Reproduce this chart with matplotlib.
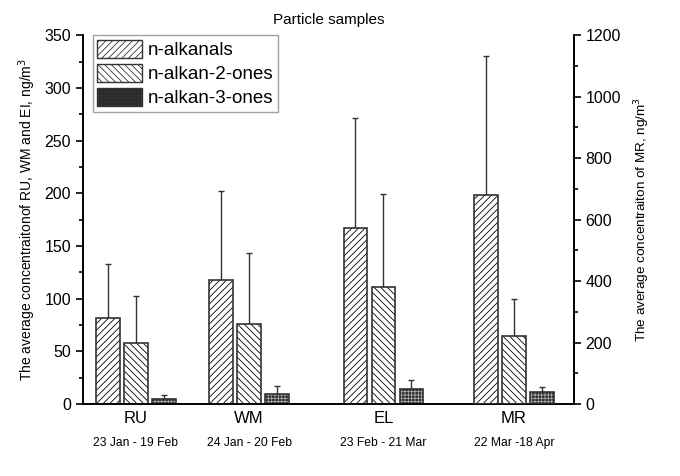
import matplotlib
matplotlib.use('Agg')
import matplotlib.pyplot as plt
import matplotlib.patches as mpatches
from matplotlib.ticker import MultipleLocator

plt.rcParams['font.family'] = ['Liberation Sans', 'DejaVu Sans']
plt.rcParams['hatch.linewidth'] = 0.6

sites = ['RU', 'WM', 'EL', 'MR']
periods = ['23 Jan - 19 Feb', '24 Jan - 20 Feb', '23 Feb - 21 Mar', '22 Mar -18 Apr']
series = ['n-alkanals', 'n-alkan-2-ones', 'n-alkan-3-ones']

# RU, WM, EL on left axis (ng/m3)
left_means = {'n-alkanals': [82, 118, 167],
              'n-alkan-2-ones': [58, 76, 111],
              'n-alkan-3-ones': [5, 10, 14]}
left_err = {'n-alkanals': [51, 84, 104],
            'n-alkan-2-ones': [45, 67, 88],
            'n-alkan-3-ones': [4, 7, 9]}
# MR on right axis (ng/m3)
mr_means = [680, 222, 38]
mr_err = [452, 121, 17]

centers = [1.0, 2.01, 3.21, 4.375]
offsets = [-0.25, 0.0, 0.25]
width = 0.21

fig = plt.figure(figsize=(6.8, 4.76), dpi=100)
ax = fig.add_axes([0.122, 0.151, 0.722, 0.775])
ax2 = ax.twinx()

styles = [dict(facecolor='white', hatch='/////', hc='black'),
          dict(facecolor='white', hatch='\\\\\\\\\\', hc='black'),
          dict(facecolor='#2a2a2a', hatch='+++++', hc='#aaaaaa')]

for i, name in enumerate(series):
    st = styles[i]
    xs = [c + offsets[i] for c in centers[:3]]
    ax.errorbar(xs, left_means[name], yerr=[[0] * 3, left_err[name]], fmt='none',
                ecolor='#333333', elinewidth=1, capsize=2.5, capthick=1, zorder=1)
    ax.bar(xs, left_means[name], width, facecolor=st['facecolor'], edgecolor=st['hc'],
           hatch=st['hatch'], linewidth=0, zorder=2)
    ax.bar(xs, left_means[name], width, fill=False, edgecolor='#333333',
           linewidth=1.2, zorder=3)
    x_mr = centers[3] + offsets[i]
    ax2.errorbar([x_mr], [mr_means[i]], yerr=[[0], [mr_err[i]]], fmt='none',
                 ecolor='#333333', elinewidth=1, capsize=2.5, capthick=1, zorder=1)
    ax2.bar([x_mr], [mr_means[i]], width, facecolor=st['facecolor'], edgecolor=st['hc'],
            hatch=st['hatch'], linewidth=0, zorder=2)
    ax2.bar([x_mr], [mr_means[i]], width, fill=False, edgecolor='#333333',
            linewidth=1.2, zorder=3)

# legend proxies
handles = [mpatches.Patch(facecolor=st['facecolor'], edgecolor='#333333',
                          hatch=st['hatch'], label=name, linewidth=1)
           for st, name in zip(styles, series)]

ax.set_xlim(0.527, 4.91)
ax.set_ylim(0, 350)
ax2.set_ylim(0, 1200)

ax.set_xticks(centers)
ax.set_xticklabels(sites, fontsize=12)
for c, p in zip(centers, periods):
    ax.text(c, -0.09, p, transform=ax.get_xaxis_transform(), ha='center', va='top', fontsize=8.7)

ax.yaxis.set_major_locator(MultipleLocator(50))
ax.yaxis.set_minor_locator(MultipleLocator(25))
ax2.yaxis.set_major_locator(MultipleLocator(200))
ax2.yaxis.set_minor_locator(MultipleLocator(100))
ax.tick_params(axis='y', which='major', labelsize=11.5, length=5, width=1.2)
ax.tick_params(axis='y', which='minor', length=3, width=1.2)
ax.tick_params(axis='x', length=0, pad=5)
ax2.tick_params(axis='y', which='major', labelsize=11.5, length=5, width=1.2)
ax2.tick_params(axis='y', which='minor', length=3, width=1.2)

for a in (ax, ax2):
    a.spines['top'].set_visible(False)
    for s in ('left', 'right', 'bottom'):
        a.spines[s].set_linewidth(1.2)

ax.set_ylabel('The average concentraitonof RU, WM and EI, ng/m$^3$', fontsize=10, labelpad=5)
ax2.set_ylabel('The average concentraiton of MR, ng/m$^3$', fontsize=9.7, labelpad=8)
ax.set_title('Particle samples', fontsize=11, pad=8)

leg = ax.legend(handles=handles, loc='upper left', bbox_to_anchor=(0.02, 1.0), fontsize=13.5,
                frameon=True, fancybox=False, edgecolor='#888888', handlelength=2.4,
                handleheight=1.1, borderpad=0.25, labelspacing=0.25, handletextpad=0.3,
                borderaxespad=0.0)
leg.get_frame().set_linewidth(1)

fig.savefig('out.png', dpi=100)
